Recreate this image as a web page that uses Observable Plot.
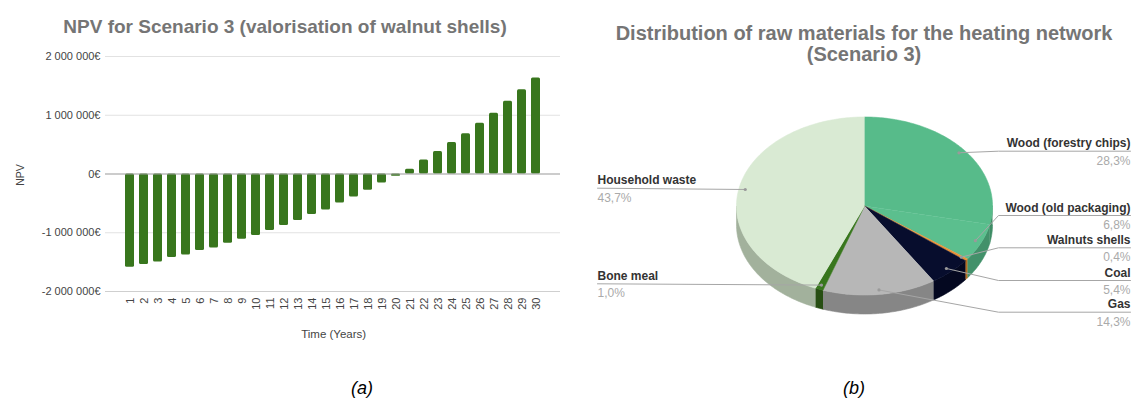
<!DOCTYPE html>
<html><head><meta charset="utf-8">
<script src="https://cdn.jsdelivr.net/npm/d3@7"></script>
<script src="https://cdn.jsdelivr.net/npm/@observablehq/plot@0.6"></script>
<style>
html,body{margin:0;padding:0;background:#fff;}
#root{position:relative;width:1132px;height:399px;overflow:hidden;font-family:"Liberation Sans",Arial,sans-serif;background:#fff;}
.abs{position:absolute;white-space:nowrap;}
.title{font-weight:bold;color:#757575;text-align:center;}
</style></head><body>
<div id="root">
  <div id="chartA" class="abs" style="left:0;top:40px"></div>
  <div id="chartB" class="abs" style="left:580px;top:100px"></div>
  <div class="abs title" style="left:0;width:570px;top:17px;font-size:19px;line-height:19px">NPV for Scenario 3 (valorisation of walnut shells)</div>
  <div class="abs title" style="left:594px;width:540px;top:23px;font-size:20px;line-height:20px">Distribution of raw materials for the heating network</div>
  <div class="abs title" style="left:594px;width:540px;top:44px;font-size:20px;line-height:20px">(Scenario 3)</div>
  <div class="abs" style="left:20px;top:175px;transform:translate(-50%,-50%) rotate(-90deg);font-size:10.5px;color:#444">NPV</div>
  <div class="abs" style="left:233.7px;width:200px;text-align:center;top:329px;font-size:11.5px;line-height:11.5px;color:#444">Time (Years)</div>
  <div class="abs" style="left:312px;width:100px;text-align:center;top:379px;font-size:18px;line-height:18px;font-style:italic;color:#000">(a)</div>
  <div class="abs" style="left:804px;width:100px;text-align:center;top:379px;font-size:18px;line-height:18px;font-style:italic;color:#000">(b)</div>
</div>
<script>
// ---------- Data: panel (a) ----------
const years = [1,2,3,4,5,6,7,8,9,10,11,12,13,14,15,16,17,18,19,20,21,22,23,24,25,26,27,28,29,30];
const npv = [-1586000,-1541000,-1496000,-1422000,-1377000,-1303000,-1258000,-1178000,-1110000,-1048000,
             -963000,-878000,-793000,-691000,-612000,-493000,-391000,-278000,-155000,-40000,
             79000,237000,384000,537000,684000,864000,1034000,1237000,1435000,1633000];
const yTicks = [-2000000,-1000000,0,1000000,2000000];

// ---------- Data: panel (b) ----------
const materials = ["Wood (forestry chips)","Wood (old packaging)","Walnuts shells","Coal","Gas","Bone meal","Household waste"];
const shares = [28.3, 6.8, 0.4, 5.4, 14.3, 1.0, 43.7];
const topColors = ["#57bb8a","#5bbf8e","#e69138","#070d2d","#b7b7b7","#38761d","#d9ead3"];
const sideColors = ["#3f8d66","#42916a","#b56b1f","#040820","#868686","#274e13","#a2b19c"];

// ---------- Layout (pixels, page coordinates) ----------
const PIE = {cx: 864, cy: 205.5, rx: 128, ry: 89, depth: 19, left: 580, top: 100, width: 552, height: 250};
const labelLayout = [
  {side:"right", lineY:150.7}, {side:"right", lineY:215}, {side:"right", lineY:247.3},
  {side:"right", lineY:280}, {side:"right", lineY:311.7},
  {side:"left", lineY:283.3}, {side:"left", lineY:187.7}
];
const RIGHT_BEND_X = 998, RIGHT_END_X = 1130, LEFT_END_X = 597, DOT_R = 0.95;

// ---------- Panel (a) ----------
const npvData = years.map((y,i) => ({year: y, npv: npv[i]}));
const fmtEuro = d => (d < 0 ? "-" : "") + d3.format(",")(Math.abs(d)).replace(/,/g, " ") + "€";

const chartA = Plot.plot({
  width: 565, height: 310,
  marginLeft: 105, marginRight: 5, marginTop: 16, marginBottom: 59,
  style: {fontFamily: '"Liberation Sans", Arial, sans-serif', fontSize: "11px", color: "#444", background: "transparent", overflow: "visible"},
  x: {type: "band", domain: years, padding: 0.38, tickRotate: -90, tickSize: 0, tickPadding: 6, label: null},
  y: {domain: [-2000000, 2000000], ticks: 5, tickSize: 0, tickPadding: 5, tickFormat: fmtEuro, label: null},
  marks: [
    Plot.ruleY(yTicks.filter(d => d !== 0 && d !== -2000000), {stroke: "#e2e2e2", strokeWidth: 1.2}),
    Plot.ruleY(yTicks.filter(d => d === -2000000), {stroke: "#cfcfcf", strokeWidth: 1.2}),
    Plot.barY(npvData, {x: "year", y: "npv", fill: "#38761d", rx: 1.5}),
    Plot.ruleY([0], {stroke: "#999", strokeWidth: 1.2})
  ]
});
document.getElementById("chartA").appendChild(chartA);

// ---------- Panel (b): 3D pie built from shares ----------
const total = d3.sum(shares);
let acc = 0;
const slices = materials.map((m, i) => {
  const a0 = acc / total * 2 * Math.PI; acc += shares[i];
  const a1 = acc / total * 2 * Math.PI;
  return {m, i, a0, a1, mid: (a0 + a1) / 2};
});
const depthU = PIE.depth / PIE.ry;
const arcPts = (a0, a1) => {
  const n = Math.max(2, Math.ceil((a1 - a0) / (Math.PI / 180)));
  return d3.range(n + 1).map(k => a0 + (a1 - a0) * k / n);
};
const sideRows = [], topRows = [];
slices.forEach(s => {
  const b0 = Math.max(s.a0, Math.PI / 2), b1 = Math.min(s.a1, 3 * Math.PI / 2);
  if (b1 > b0) {
    const pts = arcPts(b0, b1);
    pts.forEach(a => sideRows.push({face: "side" + s.i, fill: sideColors[s.i], ux: Math.sin(a), uy: -Math.cos(a)}));
    pts.slice().reverse().forEach(a => sideRows.push({face: "side" + s.i, fill: sideColors[s.i], ux: Math.sin(a), uy: -Math.cos(a) + depthU}));
  }
  topRows.push({face: "top" + s.i, fill: topColors[s.i], ux: 0, uy: 0});
  arcPts(s.a0, s.a1).forEach(a => topRows.push({face: "top" + s.i, fill: topColors[s.i], ux: Math.sin(a), uy: -Math.cos(a)}));
});

const toUx = px => (px - PIE.cx) / PIE.rx;
const toUy = py => (py - PIE.cy) / PIE.ry;

const dots = slices.map(s => ({i: s.i, ux: DOT_R * Math.sin(s.mid), uy: -DOT_R * Math.cos(s.mid)}));
const leaderRows = [];
dots.forEach(d => {
  const L = labelLayout[d.i];
  leaderRows.push({i: d.i, ux: d.ux, uy: d.uy});
  if (L.side === "right") {
    leaderRows.push({i: d.i, ux: toUx(RIGHT_BEND_X), uy: toUy(L.lineY)});
    leaderRows.push({i: d.i, ux: toUx(RIGHT_END_X), uy: toUy(L.lineY)});
  } else {
    leaderRows.push({i: d.i, ux: toUx(LEFT_END_X), uy: toUy(L.lineY)});
  }
});
const labelRows = slices.map(s => {
  const L = labelLayout[s.i];
  const endX = L.side === "right" ? RIGHT_END_X : LEFT_END_X;
  return {
    name: s.m,
    pct: shares[s.i].toFixed(1).replace(".", ",") + "%",
    anchor: L.side === "right" ? "end" : "start",
    ux: toUx(endX),
    uyName: toUy(L.lineY - 4),
    uyPct: toUy(L.lineY + 13.5)
  };
});

const chartB = Plot.plot({
  width: PIE.width, height: PIE.height,
  marginLeft: 0, marginRight: 0, marginTop: 0, marginBottom: 0,
  style: {fontFamily: '"Liberation Sans", Arial, sans-serif', background: "transparent", overflow: "visible"},
  x: {type: "linear", domain: [-1, 1], range: [PIE.cx - PIE.rx - PIE.left, PIE.cx + PIE.rx - PIE.left], axis: null},
  y: {type: "linear", domain: [-1, 1], range: [PIE.cy - PIE.ry - PIE.top, PIE.cy + PIE.ry - PIE.top], axis: null},
  color: {type: "identity"},
  marks: [
    Plot.line(sideRows, {x: "ux", y: "uy", z: "face", fill: "fill", stroke: "fill", strokeWidth: 0.6, curve: "linear"}),
    Plot.line(topRows, {x: "ux", y: "uy", z: "face", fill: "fill", stroke: "fill", strokeWidth: 0.6, curve: "linear"}),
    Plot.line(leaderRows, {x: "ux", y: "uy", z: "i", stroke: "#a6a6a6", strokeWidth: 1, curve: "linear"}),
    Plot.dot(dots, {x: "ux", y: "uy", r: 1.6, fill: "#9a9a9a", stroke: null}),
    Plot.text(labelRows.filter(d => d.anchor === "end"), {x: "ux", y: "uyName", text: "name", textAnchor: "end", lineAnchor: "bottom", fontSize: 12, fontWeight: "bold", fill: "#333"}),
    Plot.text(labelRows.filter(d => d.anchor === "start"), {x: "ux", y: "uyName", text: "name", textAnchor: "start", lineAnchor: "bottom", fontSize: 12, fontWeight: "bold", fill: "#333"}),
    Plot.text(labelRows.filter(d => d.anchor === "end"), {x: "ux", y: "uyPct", text: "pct", textAnchor: "end", lineAnchor: "bottom", fontSize: 12, fill: "#aaa"}),
    Plot.text(labelRows.filter(d => d.anchor === "start"), {x: "ux", y: "uyPct", text: "pct", textAnchor: "start", lineAnchor: "bottom", fontSize: 12, fill: "#aaa"})
  ]
});
document.getElementById("chartB").appendChild(chartB);
</script>
</body></html>
